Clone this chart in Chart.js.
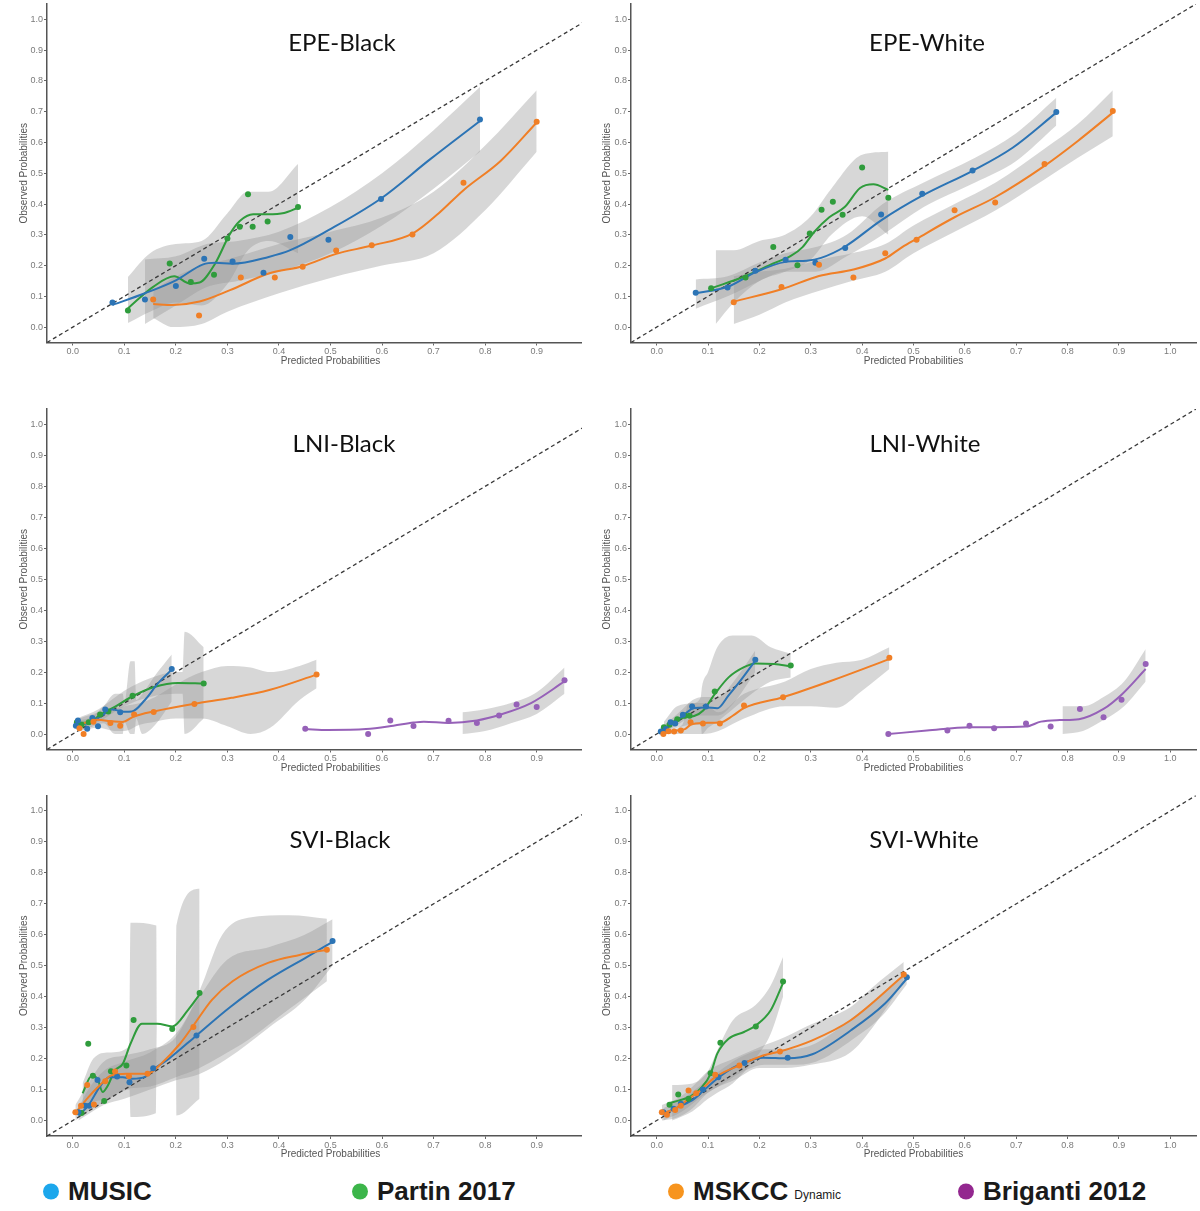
<!DOCTYPE html>
<html>
<head>
<meta charset="utf-8">
<script src="https://cdn.jsdelivr.net/npm/chart.js@4.4.1/dist/chart.umd.min.js"></script>
<style>
  body { margin: 0; width: 1200px; height: 1211px; background: #fff; position: relative; overflow: hidden; font-family: "Liberation Sans", Arial, sans-serif; }
  .panel { position: absolute; overflow: hidden; }
  .panel canvas { position: absolute; left: 0; top: 0; }
  .ptitle { position: absolute; font-family: Lato, "Open Sans", sans-serif; font-size: 24px; line-height: 1; color: #111; transform: translate(-50%, -50%); white-space: nowrap; }
  .leg { position: absolute; top: 1191px; transform: translateY(-50%); display: flex; align-items: center; white-space: nowrap; font: bold 26px "Liberation Sans", Arial, sans-serif; color: #1a1a1a; }
  .leg .dot { width: 16px; height: 16px; border-radius: 50%; margin-right: 9px; }
  .leg small { font-weight: normal; font-size: 12px; margin-left: 6px; align-self: flex-end; margin-bottom: 5px; }
</style>
</head>
<body>
<div id="figure"></div>
<div class="leg" style="left:43px"><span class="dot" style="background:#1ca7ec"></span>MUSIC</div>
<div class="leg" style="left:352px"><span class="dot" style="background:#3cb54a"></span>Partin 2017</div>
<div class="leg" style="left:668px"><span class="dot" style="background:#f7941e"></span>MSKCC<small>Dynamic</small></div>
<div class="leg" style="left:958px"><span class="dot" style="background:#93278f"></span>Briganti 2012</div>

<script>
// ---- axes ----
const yTicks = [0, 0.1, 0.2, 0.3, 0.4, 0.5, 0.6, 0.7, 0.8, 0.9, 1.0];
const xTicksLeft = [0, 0.1, 0.2, 0.3, 0.4, 0.5, 0.6, 0.7, 0.8, 0.9];
const xTicksRight = [0, 0.1, 0.2, 0.3, 0.4, 0.5, 0.6, 0.7, 0.8, 0.9, 1.0];
const diagonal = [[-0.05, -0.05], [1.05, 1.05]];

// colours
const C_MUSIC = '#2c74b5';
const C_PARTIN = '#2f9c3c';
const C_MSKCC = '#f07f26';
const C_BRIGANTI = '#9661b8';
const BAND = 'rgba(150,150,150,0.38)';

// ---- EPE-Black ---- pts [x,y], fit [x,y], band [x,lower,upper]
const epeB_music_pts = [[0.077,0.080],[0.140,0.090],[0.200,0.134],[0.255,0.222],[0.310,0.213],[0.370,0.177],[0.422,0.293],[0.496,0.284],[0.598,0.416],[0.790,0.675]];
const epeB_music_fit = [[0.077,0.072],[0.14,0.11],[0.2,0.152],[0.253,0.204],[0.276,0.209],[0.31,0.206],[0.38,0.228],[0.422,0.250],[0.496,0.315],[0.598,0.418],[0.693,0.545],[0.79,0.67]];
const epeB_music_band = [[0.14,0.01,0.22],[0.2,0.07,0.23],[0.26,0.13,0.27],[0.32,0.15,0.28],[0.4,0.18,0.31],[0.5,0.24,0.39],[0.6,0.33,0.5],[0.7,0.45,0.64],[0.79,0.57,0.78]];
const epeB_partin_pts = [[0.107,0.054],[0.188,0.207],[0.229,0.147],[0.274,0.170],[0.300,0.288],[0.324,0.326],[0.340,0.432],[0.349,0.326],[0.378,0.343],[0.437,0.390]];
const epeB_partin_fit = [[0.107,0.061],[0.156,0.131],[0.197,0.165],[0.227,0.142],[0.246,0.145],[0.276,0.206],[0.305,0.303],[0.324,0.345],[0.35,0.367],[0.378,0.367],[0.41,0.371],[0.437,0.388]];
const epeB_partin_band = [[0.107,0.013,0.163],[0.15,0.05,0.24],[0.2,0.08,0.27],[0.25,0.07,0.28],[0.3,0.14,0.37],[0.34,0.25,0.44],[0.38,0.28,0.44],[0.437,0.24,0.53]];
const epeB_mskcc_pts = [[0.156,0.090],[0.245,0.038],[0.326,0.161],[0.392,0.161],[0.446,0.196],[0.511,0.249],[0.580,0.266],[0.659,0.301],[0.758,0.469],[0.900,0.667]];
const epeB_mskcc_fit = [[0.156,0.075],[0.194,0.072],[0.246,0.083],[0.305,0.120],[0.38,0.174],[0.446,0.198],[0.511,0.238],[0.58,0.265],[0.66,0.305],[0.71,0.37],[0.758,0.445],[0.83,0.54],[0.9,0.665]];
const epeB_mskcc_band = [[0.156,0.03,0.12],[0.195,0.0,0.16],[0.25,0.01,0.2],[0.3,0.05,0.22],[0.4,0.11,0.27],[0.5,0.16,0.31],[0.6,0.2,0.356],[0.7,0.24,0.44],[0.8,0.38,0.59],[0.9,0.57,0.77]];

// ---- EPE-White ----
const epeW_music_pts = [[0.076,0.112],[0.138,0.129],[0.192,0.183],[0.251,0.219],[0.309,0.209],[0.367,0.257],[0.437,0.366],[0.517,0.433],[0.615,0.509],[0.778,0.699]];
const epeW_music_fit = [[0.076,0.110],[0.138,0.131],[0.192,0.178],[0.251,0.212],[0.292,0.216],[0.32,0.225],[0.367,0.262],[0.437,0.347],[0.517,0.427],[0.615,0.508],[0.693,0.583],[0.778,0.697]];
const epeW_music_band = [[0.076,0.06,0.155],[0.138,0.1,0.165],[0.2,0.15,0.21],[0.25,0.18,0.24],[0.31,0.18,0.26],[0.37,0.23,0.3],[0.44,0.3,0.4],[0.52,0.39,0.47],[0.62,0.47,0.55],[0.7,0.54,0.63],[0.778,0.655,0.745]];
const epeW_partin_pts = [[0.106,0.126],[0.173,0.161],[0.227,0.260],[0.274,0.201],[0.298,0.304],[0.321,0.381],[0.343,0.407],[0.362,0.365],[0.400,0.519],[0.451,0.420]];
const epeW_partin_fit = [[0.106,0.126],[0.173,0.166],[0.227,0.207],[0.262,0.232],[0.284,0.26],[0.307,0.31],[0.336,0.357],[0.366,0.39],[0.396,0.452],[0.422,0.464],[0.451,0.446]];
const epeW_partin_band = [[0.115,0.01,0.25],[0.15,0.08,0.25],[0.2,0.15,0.28],[0.25,0.18,0.3],[0.3,0.22,0.36],[0.34,0.3,0.45],[0.4,0.36,0.56],[0.451,0.3,0.57]];
const epeW_mskcc_pts = [[0.150,0.081],[0.243,0.130],[0.316,0.203],[0.383,0.161],[0.445,0.240],[0.506,0.284],[0.580,0.380],[0.659,0.405],[0.755,0.530],[0.888,0.702]];
const epeW_mskcc_fit = [[0.150,0.083],[0.243,0.123],[0.316,0.166],[0.383,0.187],[0.445,0.223],[0.478,0.26],[0.506,0.287],[0.58,0.357],[0.659,0.422],[0.755,0.524],[0.82,0.605],[0.888,0.697]];
const epeW_mskcc_band = [[0.15,0.01,0.165],[0.2,0.04,0.18],[0.25,0.08,0.19],[0.32,0.12,0.22],[0.38,0.15,0.24],[0.445,0.18,0.27],[0.5,0.24,0.33],[0.58,0.31,0.4],[0.66,0.38,0.47],[0.755,0.48,0.58],[0.82,0.55,0.66],[0.888,0.62,0.77]];

// ---- LNI-Black ----
const lniB_music_pts = [[0.006,0.027],[0.010,0.044],[0.028,0.017],[0.038,0.052],[0.049,0.025],[0.063,0.079],[0.092,0.070],[0.192,0.210]];
const lniB_music_fit = [[0.006,0.03],[0.032,0.036],[0.054,0.057],[0.077,0.079],[0.099,0.072],[0.115,0.073],[0.14,0.11],[0.166,0.165],[0.192,0.208]];
const lniB_music_band = [[0.006,0.015,0.045],[0.03,0.02,0.05],[0.06,0.035,0.09],[0.082,0.0,0.13],[0.097,0.0,0.13],[0.1,0.04,0.1],[0.112,0.0,0.235],[0.12,0.0,0.235],[0.123,0.05,0.11],[0.135,0.0,0.13],[0.16,0.03,0.19],[0.192,0.105,0.257]];
const lniB_partin_pts = [[0.008,0.038],[0.017,0.030],[0.031,0.038],[0.053,0.063],[0.069,0.073],[0.116,0.124],[0.254,0.163]];
const lniB_partin_fit = [[0.008,0.036],[0.032,0.038],[0.054,0.063],[0.084,0.09],[0.116,0.122],[0.158,0.152],[0.204,0.165],[0.254,0.163]];
const lniB_partin_band = [[0.008,0.02,0.05],[0.05,0.04,0.08],[0.1,0.09,0.14],[0.15,0.12,0.18],[0.2,0.13,0.2],[0.213,0.13,0.2],[0.217,0.0,0.33],[0.254,0.05,0.28]];
const lniB_mskcc_pts = [[0.013,0.019],[0.021,0.0],[0.04,0.04],[0.073,0.036],[0.092,0.027],[0.119,0.063],[0.157,0.071],[0.236,0.097],[0.473,0.192]];
const lniB_mskcc_fit = [[0.013,0.03],[0.047,0.046],[0.077,0.041],[0.096,0.039],[0.119,0.057],[0.157,0.073],[0.236,0.098],[0.308,0.117],[0.383,0.143],[0.473,0.192]];
const lniB_mskcc_band = [[0.013,0.01,0.05],[0.05,0.02,0.07],[0.08,0.01,0.08],[0.1,0.01,0.09],[0.13,0.03,0.1],[0.16,0.04,0.12],[0.2,0.05,0.16],[0.25,0.05,0.2],[0.3,0.025,0.22],[0.345,0.0,0.215],[0.383,0.02,0.2],[0.44,0.11,0.22],[0.473,0.148,0.24]];
const lniB_brig_pts = [[0.451,0.017],[0.573,0.0],[0.616,0.044],[0.661,0.026],[0.729,0.043],[0.784,0.036],[0.827,0.060],[0.861,0.095],[0.900,0.087],[0.954,0.174]];
const lniB_brig_fit = [[0.451,0.016],[0.495,0.013],[0.569,0.016],[0.622,0.027],[0.661,0.037],[0.681,0.04],[0.729,0.036],[0.784,0.044],[0.83,0.063],[0.889,0.10],[0.954,0.170]];
const lniB_brig_band = [[0.756,0.0,0.07],[0.8,0.01,0.08],[0.85,0.035,0.1],[0.9,0.065,0.135],[0.954,0.13,0.215]];

// ---- LNI-White ----
const lniW_music_pts = [[0.008,0.008],[0.018,0.016],[0.027,0.038],[0.036,0.034],[0.051,0.062],[0.069,0.089],[0.096,0.089],[0.192,0.240]];
const lniW_music_fit = [[0.008,0.008],[0.029,0.032],[0.051,0.059],[0.073,0.084],[0.096,0.086],[0.118,0.083],[0.14,0.125],[0.162,0.17],[0.192,0.237]];
const lniW_music_band = [[0.008,0.0,0.02],[0.03,0.02,0.05],[0.05,0.04,0.08],[0.07,0.06,0.11],[0.09,0.06,0.12],[0.12,0.06,0.12],[0.15,0.1,0.17],[0.192,0.2,0.27]];
const lniW_partin_pts = [[0.014,0.022],[0.025,0.030],[0.040,0.048],[0.055,0.059],[0.064,0.059],[0.113,0.137],[0.261,0.221]];
const lniW_partin_fit = [[0.014,0.016],[0.036,0.043],[0.055,0.054],[0.073,0.058],[0.09,0.075],[0.113,0.129],[0.14,0.183],[0.17,0.216],[0.192,0.228],[0.229,0.226],[0.261,0.219]];
const lniW_partin_band = [[0.014,0.0,0.04],[0.04,0.02,0.09],[0.07,0.03,0.1],[0.086,0.03,0.12],[0.088,0.0,0.15],[0.1,0.02,0.2],[0.118,0.04,0.28],[0.148,0.08,0.318],[0.185,0.13,0.318],[0.222,0.17,0.28],[0.261,0.183,0.259]];
const lniW_mskcc_pts = [[0.013,0.0],[0.023,0.009],[0.034,0.008],[0.047,0.011],[0.066,0.038],[0.09,0.034],[0.123,0.034],[0.170,0.092],[0.246,0.119],[0.453,0.246]];
const lniW_mskcc_fit = [[0.013,0.002],[0.036,0.011],[0.055,0.016],[0.066,0.03],[0.09,0.036],[0.123,0.037],[0.148,0.059],[0.17,0.084],[0.246,0.119],[0.34,0.172],[0.453,0.242]];
const lniW_mskcc_band = [[0.013,0.0,0.01],[0.05,0.0,0.03],[0.063,0.0,0.1],[0.09,0.0,0.1],[0.12,0.01,0.07],[0.17,0.05,0.13],[0.25,0.09,0.17],[0.3,0.09,0.21],[0.35,0.085,0.23],[0.4,0.14,0.24],[0.453,0.21,0.28]];
const lniW_brig_pts = [[0.451,0.0],[0.566,0.011],[0.609,0.027],[0.657,0.019],[0.719,0.034],[0.767,0.024],[0.824,0.081],[0.870,0.054],[0.905,0.111],[0.952,0.226]];
const lniW_brig_fit = [[0.451,0.0],[0.526,0.011],[0.609,0.022],[0.657,0.022],[0.719,0.024],[0.748,0.04],[0.785,0.045],[0.822,0.048],[0.87,0.081],[0.905,0.127],[0.952,0.21]];
const lniW_brig_band = [[0.79,0.0,0.09],[0.83,0.01,0.09],[0.87,0.045,0.12],[0.91,0.09,0.17],[0.952,0.17,0.275]];

// ---- SVI-Black ----
const sviB_music_pts = [[0.011,0.027],[0.024,0.048],[0.032,0.048],[0.048,0.131],[0.086,0.142],[0.110,0.124],[0.156,0.169],[0.240,0.275],[0.504,0.580]];
const sviB_music_fit = [[0.011,0.016],[0.03,0.048],[0.052,0.108],[0.071,0.14],[0.097,0.14],[0.115,0.135],[0.141,0.142],[0.156,0.165],[0.186,0.199],[0.24,0.275],[0.305,0.366],[0.379,0.455],[0.454,0.528],[0.504,0.577]];
const sviB_music_band = [[0.011,0.0,0.04],[0.03,0.02,0.1],[0.06,0.05,0.16],[0.1,0.07,0.19],[0.15,0.1,0.22],[0.2,0.13,0.28],[0.246,0.15,0.4],[0.3,0.2,0.52],[0.38,0.3,0.56],[0.45,0.39,0.6],[0.504,0.5,0.65]];
const sviB_partin_pts = [[0.017,0.024],[0.030,0.248],[0.039,0.145],[0.061,0.063],[0.074,0.159],[0.104,0.178],[0.118,0.325],[0.193,0.296],[0.246,0.412]];
const sviB_partin_fit = [[0.019,0.088],[0.037,0.145],[0.048,0.135],[0.058,0.092],[0.067,0.11],[0.082,0.162],[0.097,0.183],[0.112,0.248],[0.134,0.313],[0.164,0.313],[0.193,0.304],[0.223,0.356],[0.246,0.407]];
const sviB_partin_band = [[0.019,0.04,0.12],[0.04,0.06,0.2],[0.07,0.07,0.22],[0.11,0.1,0.24],[0.112,0.011,0.639],[0.162,0.024,0.63],[0.163,0.3,0.3],[0.2,0.3,0.3],[0.201,0.016,0.63],[0.246,0.07,0.749]];
const sviB_mskcc_pts = [[0.005,0.027],[0.016,0.048],[0.028,0.115],[0.041,0.052],[0.063,0.127],[0.082,0.158],[0.109,0.143],[0.145,0.151],[0.234,0.302],[0.493,0.552]];
const sviB_mskcc_fit = [[0.005,0.024],[0.03,0.075],[0.052,0.113],[0.074,0.145],[0.104,0.151],[0.145,0.151],[0.171,0.183],[0.208,0.248],[0.234,0.307],[0.27,0.39],[0.31,0.45],[0.38,0.51],[0.44,0.535],[0.493,0.552]];
const sviB_mskcc_band = [[0.005,0.0,0.05],[0.03,0.03,0.12],[0.06,0.06,0.19],[0.1,0.1,0.21],[0.15,0.11,0.23],[0.2,0.14,0.27],[0.246,0.17,0.42],[0.29,0.21,0.6],[0.34,0.26,0.655],[0.42,0.36,0.663],[0.493,0.45,0.652]];

// ---- SVI-White ----
const sviW_music_pts = [[0.013,0.027],[0.033,0.038],[0.047,0.054],[0.090,0.100],[0.120,0.140],[0.171,0.186],[0.255,0.203],[0.487,0.463]];
const sviW_music_fit = [[0.013,0.022],[0.044,0.045],[0.073,0.07],[0.09,0.095],[0.12,0.138],[0.148,0.17],[0.171,0.187],[0.207,0.203],[0.255,0.201],[0.303,0.214],[0.377,0.29],[0.444,0.377],[0.487,0.458]];
const sviW_music_band = [[0.013,0.0,0.04],[0.05,0.03,0.07],[0.09,0.08,0.12],[0.13,0.12,0.17],[0.17,0.16,0.21],[0.21,0.18,0.23],[0.26,0.18,0.23],[0.31,0.19,0.25],[0.38,0.26,0.33],[0.44,0.34,0.41],[0.487,0.44,0.48]];
const sviW_partin_pts = [[0.025,0.051],[0.042,0.084],[0.062,0.07],[0.105,0.153],[0.124,0.251],[0.193,0.304],[0.246,0.449]];
const sviW_partin_fit = [[0.025,0.056],[0.044,0.065],[0.066,0.078],[0.088,0.108],[0.105,0.151],[0.118,0.216],[0.14,0.264],[0.17,0.286],[0.193,0.307],[0.222,0.356],[0.246,0.444]];
const sviW_partin_band = [[0.03,0.0,0.115],[0.07,0.03,0.12],[0.1,0.07,0.16],[0.118,0.09,0.226],[0.148,0.12,0.323],[0.192,0.2,0.372],[0.222,0.28,0.436],[0.246,0.4,0.528]];
const sviW_mskcc_pts = [[0.01,0.027],[0.02,0.019],[0.036,0.034],[0.047,0.048],[0.062,0.097],[0.077,0.088],[0.114,0.148],[0.161,0.178],[0.240,0.223],[0.481,0.472]];
const sviW_mskcc_fit = [[0.01,0.024],[0.036,0.038],[0.062,0.07],[0.085,0.097],[0.114,0.14],[0.161,0.178],[0.207,0.21],[0.24,0.223],[0.303,0.259],[0.377,0.323],[0.481,0.469]];
const sviW_mskcc_band = [[0.01,0.0,0.05],[0.04,0.01,0.07],[0.07,0.04,0.11],[0.1,0.09,0.16],[0.15,0.13,0.2],[0.2,0.17,0.237],[0.25,0.17,0.27],[0.3,0.18,0.31],[0.377,0.22,0.366],[0.42,0.3,0.43],[0.481,0.45,0.512]];

// ---- panels ----
const panels = [
  { title: 'EPE-Black', series: [
    { color: C_MSKCC, pts: epeB_mskcc_pts, fit: epeB_mskcc_fit, band: epeB_mskcc_band },
    { color: C_MUSIC, pts: epeB_music_pts, fit: epeB_music_fit, band: epeB_music_band },
    { color: C_PARTIN, pts: epeB_partin_pts, fit: epeB_partin_fit, band: epeB_partin_band } ] },
  { title: 'EPE-White', series: [
    { color: C_MSKCC, pts: epeW_mskcc_pts, fit: epeW_mskcc_fit, band: epeW_mskcc_band },
    { color: C_MUSIC, pts: epeW_music_pts, fit: epeW_music_fit, band: epeW_music_band },
    { color: C_PARTIN, pts: epeW_partin_pts, fit: epeW_partin_fit, band: epeW_partin_band } ] },
  { title: 'LNI-Black', series: [
    { color: C_MSKCC, pts: lniB_mskcc_pts, fit: lniB_mskcc_fit, band: lniB_mskcc_band },
    { color: C_MUSIC, pts: lniB_music_pts, fit: lniB_music_fit, band: lniB_music_band },
    { color: C_PARTIN, pts: lniB_partin_pts, fit: lniB_partin_fit, band: lniB_partin_band },
    { color: C_BRIGANTI, pts: lniB_brig_pts, fit: lniB_brig_fit, band: lniB_brig_band } ] },
  { title: 'LNI-White', series: [
    { color: C_MSKCC, pts: lniW_mskcc_pts, fit: lniW_mskcc_fit, band: lniW_mskcc_band },
    { color: C_MUSIC, pts: lniW_music_pts, fit: lniW_music_fit, band: lniW_music_band },
    { color: C_PARTIN, pts: lniW_partin_pts, fit: lniW_partin_fit, band: lniW_partin_band },
    { color: C_BRIGANTI, pts: lniW_brig_pts, fit: lniW_brig_fit, band: lniW_brig_band } ] },
  { title: 'SVI-Black', series: [
    { color: C_MSKCC, pts: sviB_mskcc_pts, fit: sviB_mskcc_fit, band: sviB_mskcc_band },
    { color: C_MUSIC, pts: sviB_music_pts, fit: sviB_music_fit, band: sviB_music_band },
    { color: C_PARTIN, pts: sviB_partin_pts, fit: sviB_partin_fit, band: sviB_partin_band } ] },
  { title: 'SVI-White', series: [
    { color: C_MSKCC, pts: sviW_mskcc_pts, fit: sviW_mskcc_fit, band: sviW_mskcc_band },
    { color: C_MUSIC, pts: sviW_music_pts, fit: sviW_music_fit, band: sviW_music_band },
    { color: C_PARTIN, pts: sviW_partin_pts, fit: sviW_partin_fit, band: sviW_partin_band } ] }
];

// page layout of each panel (left panels are cropped on the right like the original)
const boxes = [
  { left: 0,   top: 0,   clipW: 582, w: 630, h: 380, yAxisW: 47, padTop: 2,   padRight: 16, yTitlePad: 18, tx: 342, ty: 42,  xTicks: xTicksLeft },
  { left: 590, top: 0,   clipW: 610, w: 610, h: 380, yAxisW: 41, padTop: 2,   padRight: 2,  yTitlePad: 11.7, tx: 927, ty: 42,  xTicks: xTicksRight },
  { left: 0,   top: 405, clipW: 582, w: 630, h: 382, yAxisW: 47, padTop: 4,   padRight: 16, yTitlePad: 18, tx: 344, ty: 443, xTicks: xTicksLeft },
  { left: 590, top: 405, clipW: 610, w: 610, h: 382, yAxisW: 41, padTop: 4,   padRight: 2,  yTitlePad: 11.7, tx: 925, ty: 443, xTicks: xTicksRight },
  { left: 0,   top: 791, clipW: 582, w: 630, h: 382, yAxisW: 47, padTop: 4.5, padRight: 16, yTitlePad: 18, tx: 340, ty: 839, xTicks: xTicksLeft },
  { left: 590, top: 791, clipW: 610, w: 610, h: 382, yAxisW: 41, padTop: 4.5, padRight: 2,  yTitlePad: 11.7, tx: 924, ty: 839, xTicks: xTicksRight }
];
const PLOT_H = 340.5;

const xy = arr => arr.map(p => ({ x: p[0], y: p[1] }));

function buildDatasets(series) {
  const ds = [];
  series.forEach(s => {
    ds.push({ data: s.band.map(b => ({ x: b[0], y: b[1] })), borderWidth: 0, pointRadius: 0, fill: false, order: 10, cubicInterpolationMode: 'monotone' });
    ds.push({ data: s.band.map(b => ({ x: b[0], y: b[2] })), borderWidth: 0, pointRadius: 0, fill: '-1', backgroundColor: BAND, order: 10, cubicInterpolationMode: 'monotone' });
  });
  ds.push({ data: xy(diagonal), borderColor: '#3a3a3a', borderWidth: 1.3, borderDash: [4, 3], pointRadius: 0, fill: false, order: 5 });
  series.forEach(s => {
    ds.push({ data: xy(s.fit), borderColor: s.color, borderWidth: 2, pointRadius: 0, fill: false, order: 2, cubicInterpolationMode: 'monotone' });
    ds.push({ data: xy(s.pts), showLine: false, pointRadius: 3, pointBackgroundColor: s.color, pointBorderWidth: 0, order: 1 });
  });
  return ds;
}

const fig = document.getElementById('figure');
panels.forEach((p, i) => {
  const b = boxes[i];
  const wrap = document.createElement('div');
  wrap.className = 'panel';
  wrap.style.left = b.left + 'px';
  wrap.style.top = b.top + 'px';
  wrap.style.width = b.clipW + 'px';
  wrap.style.height = b.h + 'px';
  const cv = document.createElement('canvas');
  cv.width = b.w; cv.height = b.h;
  wrap.appendChild(cv);
  fig.appendChild(wrap);

  const t = document.createElement('div');
  t.className = 'ptitle';
  t.textContent = p.title;
  t.style.left = b.tx + 'px';
  t.style.top = b.ty + 'px';
  fig.appendChild(t);

  const xAxisH = b.h - b.padTop - PLOT_H;
  new Chart(cv, {
    type: 'line',
    data: { datasets: buildDatasets(p.series) },
    options: {
      responsive: false,
      devicePixelRatio: 1,
      animation: false,
      layout: { padding: { top: b.padTop, right: b.padRight, left: 0, bottom: 0 } },
      plugins: { legend: { display: false }, tooltip: { enabled: false } },
      scales: {
        x: {
          type: 'linear', min: -0.05, max: 1.05,
          afterBuildTicks: a => { a.ticks = b.xTicks.map(v => ({ value: v })); },
          afterFit: a => { a.height = xAxisH; a.paddingLeft = 0; a.paddingRight = 0; },
          ticks: { callback: v => v.toFixed(1), font: { size: 9 }, color: '#7a7a7a', padding: 1, maxRotation: 0, autoSkip: false },
          grid: { drawOnChartArea: false, drawTicks: true, tickLength: 3, color: '#666' },
          border: { color: '#555', width: 1.5 },
          title: { display: true, text: 'Predicted Probabilities', font: { size: 10 }, color: '#555', padding: { top: 0, bottom: 13 } }
        },
        y: {
          type: 'linear', min: -0.05, max: 1.05,
          afterBuildTicks: a => { a.ticks = yTicks.map(v => ({ value: v })); },
          afterFit: a => { a.width = b.yAxisW; a.paddingTop = 0; a.paddingBottom = 0; },
          ticks: { callback: v => v.toFixed(1), font: { size: 9 }, color: '#7a7a7a', padding: 1, autoSkip: false },
          grid: { drawOnChartArea: false, drawTicks: true, tickLength: 3, color: '#666' },
          border: { color: '#555', width: 1.5 },
          title: { display: true, text: 'Observed Probabilities', font: { size: 10 }, color: '#555', padding: { top: b.yTitlePad, bottom: 0 } }
        }
      }
    }
  });
});
</script>
</body>
</html>
